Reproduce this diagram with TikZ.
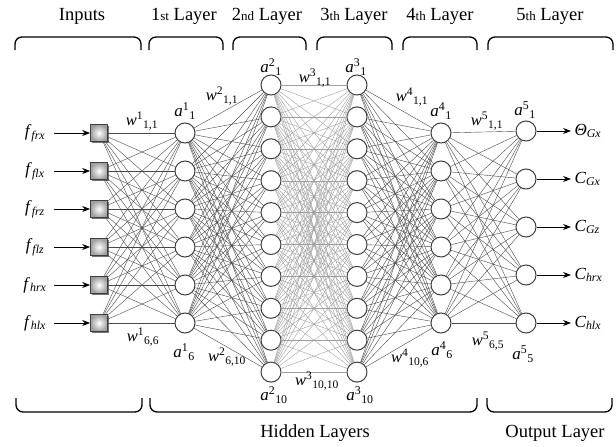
\documentclass[tikz,border=0pt]{standalone}
\usepackage{fontspec}
\setmainfont{Liberation Serif}
\usetikzlibrary{arrows.meta,shadows}
\newcommand{\lbl}[3]{\textit{#1}\textsuperscript{#2}\textsubscript{#3}}
\begin{document}
\begin{tikzpicture}[x=1pt,y=-1pt,
 neuron/.style={circle,draw=black!75,line width=1pt,fill=white,inner sep=0pt,minimum size=20pt},
 inbox/.style={rectangle,draw=black!75,line width=0.7pt,inner color=white,outer color=gray!75,minimum size=17pt,inner sep=0pt,drop shadow={shadow xshift=1.8pt,shadow yshift=-1.8pt,fill=black!55,opacity=1}},
 conn/.style={draw=black!72,line width=0.4pt},
 connlight/.style={draw=black!38,line width=0.4pt},
 iarrow/.style={-{Stealth[length=8pt,width=6pt]},line width=1pt},
 head/.style={font=\fontsize{18.5}{20}\selectfont},
 brace/.style={line width=1.3pt,rounded corners=7pt},
 alab/.style={font=\fontsize{17}{19}\selectfont,inner sep=1pt},
 wlab/.style={font=\fontsize{16.5}{18}\selectfont,inner sep=1pt},
 iolab/.style={font=\fontsize{17}{19}\selectfont}]
\useasboundingbox (0,0) rectangle (616,447);

% input squares and layer 1, layer 4
\foreach \i/\y in {1/133,2/171,3/209,4/247,5/285,6/323} {
  \node[inbox] (in\i) at (99,\y) {};
  \node[neuron] (la\i) at (185,\y) {};
  \node[neuron] (ld\i) at (441,\y) {};
}
% layers 2 and 3
\foreach \i in {1,...,10} {
  \pgfmathsetmacro{\yy}{85+(\i-1)*31.9}
  \node[neuron] (lb\i) at (271,\yy) {};
  \node[neuron] (lc\i) at (357,\yy) {};
}
% layer 5
\foreach \i/\y in {1/131,2/179,3/227,4/275,5/323} {
  \node[neuron] (le\i) at (526,\y) {};
}

% connections
\foreach \i in {1,...,6} \foreach \j in {1,...,6} \draw[conn] (in\i) -- (la\j);
\foreach \i in {1,...,6} \foreach \j in {1,...,10} \draw[conn] (la\i) -- (lb\j);
\foreach \i in {1,...,10} \foreach \j in {1,...,10} \draw[connlight] (lb\i) -- (lc\j);
\foreach \i in {1,...,10} \foreach \j in {1,...,6} \draw[conn] (lc\i) -- (ld\j);
\foreach \i in {1,...,6} \foreach \j in {1,...,5} \draw[conn] (ld\i) -- (le\j);

% input labels and arrows
\foreach \i/\y/\s in {1/133/frx,2/171/flx,3/209/frz,4/247/flz,5/285/hrx,6/323/hlx} {
  \node[iolab] (f\i) at (35,\y) {\textit{f}\textsubscript{\textit{\s}}};
  \coordinate (s\i) at (54,\y);
  \draw[iarrow] (s\i) -- (in\i);
}
% output labels and arrows
\node[iolab,anchor=west] (o1) at (571,131) {\textit{Θ}\textsubscript{\textit{Gx}}};
\node[iolab,anchor=west] (o2) at (571,179) {\textit{C}\textsubscript{\textit{Gx}}};
\node[iolab,anchor=west] (o3) at (571,227) {\textit{C}\textsubscript{\textit{Gz}}};
\node[iolab,anchor=west] (o4) at (571,275) {\textit{C}\textsubscript{\textit{hrx}}};
\node[iolab,anchor=west] (o5) at (571,323) {\textit{C}\textsubscript{\textit{hlx}}};
\foreach \i in {1,...,5} \draw[iarrow] (le\i) -- (o\i.west);

% neuron labels
\node[alab] (ta1) at (185,111) {\lbl{a}{1}{1}};
\node[alab] (ta6) at (184,352) {\lbl{a}{1}{6}};
\node[alab] (tb1) at (271,67) {\lbl{a}{2}{1}};
\node[alab] (tb10) at (274,395) {\lbl{a}{2}{10}};
\node[alab] (tc1) at (356,67) {\lbl{a}{3}{1}};
\node[alab] (tc10) at (360,395) {\lbl{a}{3}{10}};
\node[alab] (td1) at (441,111) {\lbl{a}{4}{1}};
\node[alab] (td6) at (442,350) {\lbl{a}{4}{6}};
\node[alab] (te1) at (525,110) {\lbl{a}{5}{1}};
\node[alab] (te5) at (523,354) {\lbl{a}{5}{5}};
% weight labels
\node[wlab] (w11) at (142,121) {\lbl{w}{1}{1,1}};
\node[wlab] (w166) at (143,337) {\lbl{w}{1}{6,6}};
\node[wlab] (w211) at (222,96) {\lbl{w}{2}{1,1}};
\node[wlab] (w2610) at (227,357) {\lbl{w}{2}{6,10}};
\node[wlab] (w311) at (315,78) {\lbl{w}{3}{1,1}};
\node[wlab] (w31010) at (317,381) {\lbl{w}{3}{10,10}};
\node[wlab] (w411) at (412,97) {\lbl{w}{4}{1,1}};
\node[wlab] (w4106) at (410,358) {\lbl{w}{4}{10,6}};
\node[wlab] (w511) at (487,121) {\lbl{w}{5}{1,1}};
\node[wlab] (w565) at (488,341) {\lbl{w}{5}{6,5}};

% headers
\node[head] (h0) at (82,16) {Inputs};
\node[head] (h1) at (184,16) {1{\fontsize{13}{13}\selectfont st} Layer};
\node[head] (h2) at (267,16) {2{\fontsize{13}{13}\selectfont nd} Layer};
\node[head] (h3) at (354,16) {3{\fontsize{13}{13}\selectfont th} Layer};
\node[head] (h4) at (440,16) {4{\fontsize{13}{13}\selectfont th} Layer};
\node[head] (h5) at (550,16) {5{\fontsize{13}{13}\selectfont th} Layer};
\node[head] (b1) at (315,433) {Hidden Layers};
\node[head] (b2) at (555,433) {Output Layer};

% top brackets
\draw[brace] (15,50) -- (15,37) -- (141,37) -- (141,50);
\draw[brace] (149,50) -- (149,37) -- (223,37) -- (223,50);
\draw[brace] (233,50) -- (233,37) -- (306,37) -- (306,50);
\draw[brace] (317,50) -- (317,37) -- (392,37) -- (392,50);
\draw[brace] (403,50) -- (403,37) -- (477,37) -- (477,50);
\draw[brace] (488,50) -- (488,37) -- (613,37) -- (613,50);
% bottom brackets
\draw[brace] (16,398) -- (16,412) -- (142,412) -- (142,398);
\draw[brace] (150,398) -- (150,412) -- (477,412) -- (477,398);
\draw[brace] (487,398) -- (487,412) -- (612,412) -- (612,398);
\end{tikzpicture}
\end{document}
